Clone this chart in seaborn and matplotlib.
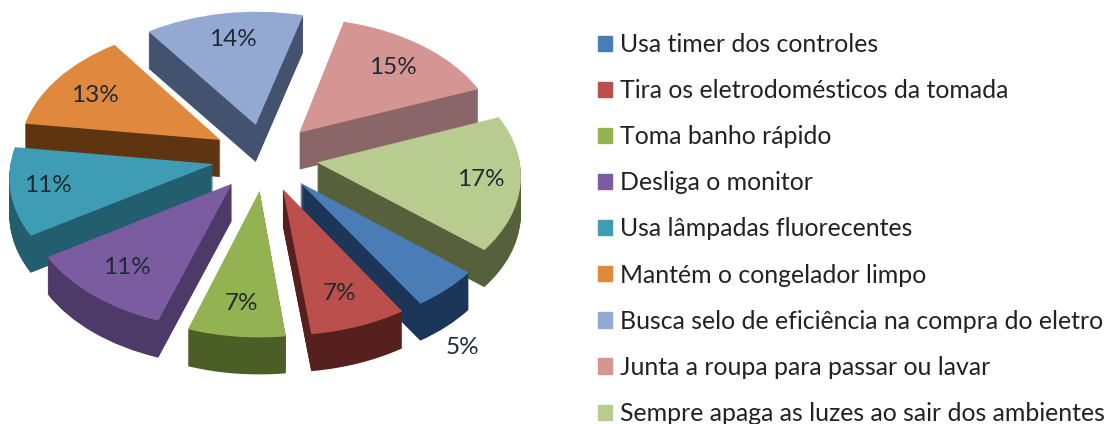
import matplotlib
matplotlib.use("Agg")
import numpy as np
import matplotlib.pyplot as plt
import matplotlib.patches as mpatches
from matplotlib.transforms import Transform
import seaborn as sns

sns.set_theme(style="white")
plt.rcParams['font.family'] = ['Lato', 'DejaVu Sans']

categories = ["Usa timer dos controles", "Tira os eletrodomésticos da tomada",
              "Toma banho rápido", "Desliga o monitor", "Usa lâmpadas fluorecentes",
              "Mantém o congelador limpo", "Busca selo de eficiência na compra do eletro",
              "Junta a roupa para passar ou lavar", "Sempre apaga as luzes ao sair dos ambientes"]
values = [5, 7, 7, 11, 11, 13, 14, 15, 17]
top_colors = ["#4A7CB6", "#BA4F4B", "#93B353", "#7B5CA0", "#3E9CB4", "#E0893E", "#93A9D2", "#D59593", "#B8CC90"]
side_colors = ["#1C3659", "#56201E", "#4B5E25", "#4E3A68", "#235E6E", "#5E3510", "#43536F", "#8B6668", "#56613B"]
label_xy = [(462, 347), (340, 293), (242, 303), (127, 267), (48, 185), (95, 95), (233, 40), (393, 68), (481, 180)]

W, H = 1108, 424
RX, RY = 202.0, 128.0
CX, CY = 265.0, 157.0
K = 0.085
EXPLODE = 0.26
DEPTH = 37
START = 90 - 130


class Perspective(Transform):
    """Projects the unit pie lying in its plane onto the picture, lifted by `drop` pixels."""
    input_dims = output_dims = 2
    is_separable = False
    has_inverse = False

    def __init__(self, drop=0.0):
        super().__init__()
        self.drop = drop

    def transform_non_affine(self, xy):
        xy = np.asarray(xy, dtype=float)
        w = 1 + K * xy[:, 1]
        return np.column_stack([CX + RX * xy[:, 0] / w, CY + self.drop - RY * xy[:, 1] / w])


fig = plt.figure(figsize=(W/100, H/100), dpi=100, facecolor="white")
ax = fig.add_axes([0, 0, 1, 1])
expl = [EXPLODE] * len(values)

for d in range(DEPTH, 0, -1):
    side, _ = ax.pie(values, colors=side_colors, explode=expl, startangle=START, counterclock=False,
                     wedgeprops=dict(linewidth=0))
    for w in side:
        w.set_transform(Perspective(d) + ax.transData)

wedges, _, autotexts = ax.pie(values, colors=top_colors, explode=expl, startangle=START, counterclock=False,
                              wedgeprops=dict(linewidth=0),
                              autopct=lambda p: f"{p:.0f}%", pctdistance=0.8,
                              textprops=dict(fontsize=17.5, color="#1f2a33"))
for w in wedges:
    w.set_transform(Perspective() + ax.transData)
for t, xy in zip(autotexts, label_xy):
    t.set_position(xy)

ax.set_aspect("auto")
ax.set_frame_on(False)
ax.set_xlim(0, W)
ax.set_ylim(H, 0)

handles = [mpatches.Patch(color=c, label=l) for c, l in zip(top_colors, categories)]
fig.legend(handles=handles, loc="upper left", bbox_to_anchor=(598/W, 1-33/H), frameon=False,
           fontsize=17.9, labelspacing=0.93, handlelength=0.57, handleheight=0.57, handletextpad=0.33,
           borderpad=0, borderaxespad=0, labelcolor="#222222")
fig.savefig("out.png", dpi=100)
